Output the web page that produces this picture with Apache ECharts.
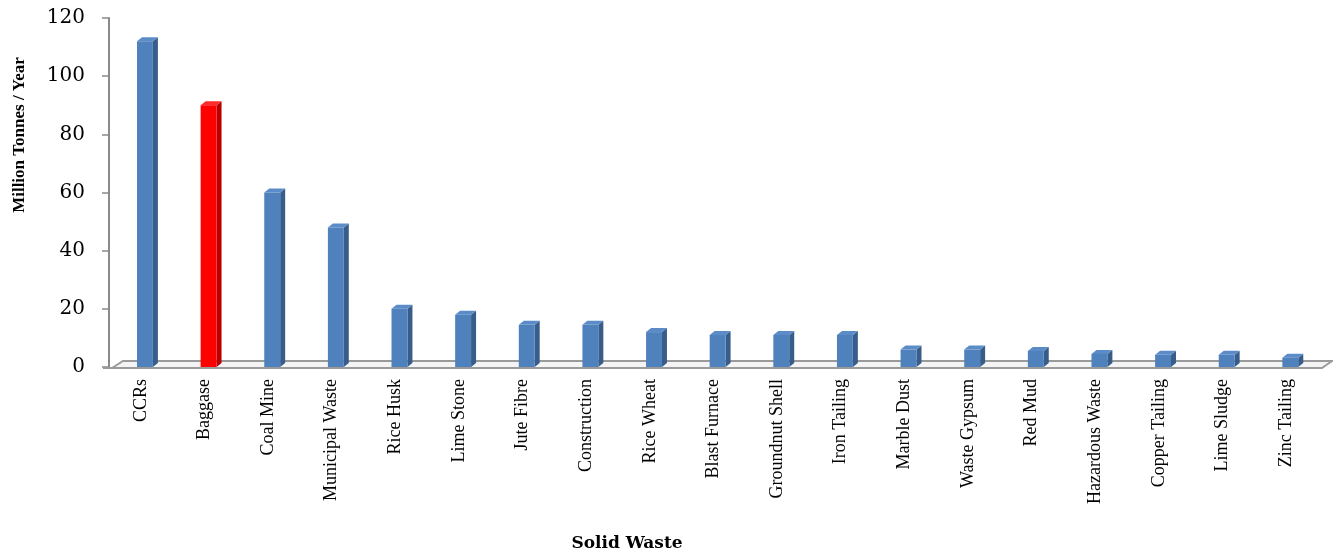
<!DOCTYPE html>
<html>
<head>
<meta charset="utf-8">
<script src="https://cdn.jsdelivr.net/npm/echarts@6/dist/echarts.min.js"></script>
<style>
html,body{margin:0;padding:0;background:#fff;}
#chart{width:1333px;height:555px;}
</style>
</head>
<body>
<div id="chart"></div>
<script>
const categories = ['CCRs','Baggase','Coal Mine','Municipal Waste','Rice Husk','Lime Stone','Jute Fibre','Construction','Rice Wheat','Blast Furnace','Groundnut Shell','Iron Tailing','Marble Dust','Waste Gypsum','Red Mud','Hazardous Waste','Copper Tailing','Lime Sludge','Zinc Tailing'];
const values = [112, 90, 60, 48, 20, 18, 14.5, 14.5, 12, 11, 11, 11, 6, 6, 5.5, 4.5, 4.2, 4.2, 3.2];
const yTicks = [0, 20, 40, 60, 80, 100, 120];
const highlighted = 'Baggase';
const yTitle = 'Million Tonnes / Year';
const xTitle = 'Solid Waste';

const BLUE = {front:'#4F81BD', side:'#385D8A', top:'#5B8CC8'};
const RED = {front:'#FF0000', side:'#B80000', top:'#FF2A2A'};

const chart = echarts.init(document.getElementById('chart'));
const n = categories.length;

function renderItem(params, api) {
  const idx = api.value(0);
  const v = api.value(1);
  const top = api.coord([idx, v]);
  const base = api.coord([idx, 0]);
  const band = api.size([1, 0])[0];
  const c = top[0];
  const fw = band * 0.25;
  const fx0 = c - band * 0.06;
  const dx = 5, dy = 4;
  const col = categories[idx] === highlighted ? RED : BLUE;
  const children = [];
  if (params.dataIndex === 0) {
    const L = api.coord([0, 0])[0] - band / 2;
    const R = api.coord([n - 1, 0])[0] + band / 2;
    const y0 = base[1];
    children.push({
      type: 'polygon',
      shape: {points: [[L + 3, y0 + 1], [L + 14, y0 - 6], [R + 14, y0 - 6], [R + 4, y0 + 1]]},
      style: {fill: '#f4f4f4', stroke: '#9a9a9a', lineWidth: 1.8}
    });
    children.push({
      type: 'line',
      shape: {x1: L - 6, y1: y0 + 1, x2: R + 4, y2: y0 + 1},
      style: {stroke: '#9a9a9a', lineWidth: 1.8}
    });
  }
  children.push({
    type: 'polygon',
    shape: {points: [[fx0 + fw, top[1]], [fx0 + fw + dx, top[1] - dy], [fx0 + fw + dx, base[1] - dy], [fx0 + fw, base[1]]]},
    style: {fill: col.side}
  });
  children.push({
    type: 'polygon',
    shape: {points: [[fx0, top[1]], [fx0 + dx, top[1] - dy], [fx0 + fw + dx, top[1] - dy], [fx0 + fw, top[1]]]},
    style: {fill: col.top}
  });
  children.push({
    type: 'rect',
    shape: {x: fx0, y: top[1], width: fw, height: base[1] - top[1]},
    style: {fill: col.front}
  });
  return {type: 'group', children: children};
}

chart.setOption({
  animation: false,
  backgroundColor: '#ffffff',
  grid: {left: 109, right: 15, top: 18, bottom: 188, containLabel: false, outerBoundsMode: 'none'},
  xAxis: {
    type: 'category',
    data: categories,
    axisLine: {show: false},
    axisTick: {show: false},
    axisLabel: {
      rotate: 90,
      margin: 12,
      color: '#000',
      fontFamily: 'Liberation Serif',
      fontSize: 18,
      interval: 0
    }
  },
  yAxis: {
    type: 'value',
    min: yTicks[0],
    max: yTicks[yTicks.length - 1],
    interval: yTicks[1] - yTicks[0],
    axisLine: {show: true, lineStyle: {color: '#8a8a8a', width: 2}},
    axisTick: {show: true, length: 7, lineStyle: {color: '#8a8a8a', width: 1.5}},
    splitLine: {show: false},
    axisLabel: {
      margin: 24,
      color: '#000',
      fontFamily: 'DejaVu Serif',
      fontSize: 20
    }
  },
  graphic: [
    {
      type: 'text',
      x: 20, y: 135,
      rotation: Math.PI / 2,
      style: {
        text: yTitle,
        fill: '#000',
        font: 'bold 17px "Liberation Serif"',
        textAlign: 'center',
        textVerticalAlign: 'middle'
      }
    },
    {
      type: 'text',
      x: 627, y: 544,
      style: {
        text: xTitle,
        fill: '#000',
        font: 'bold 17px "DejaVu Serif"',
        textAlign: 'center',
        textVerticalAlign: 'middle'
      }
    }
  ],
  series: [{
    type: 'custom',
    renderItem: renderItem,
    clip: false,
    data: values.map((v, i) => [i, v])
  }]
});
</script>
</body>
</html>
